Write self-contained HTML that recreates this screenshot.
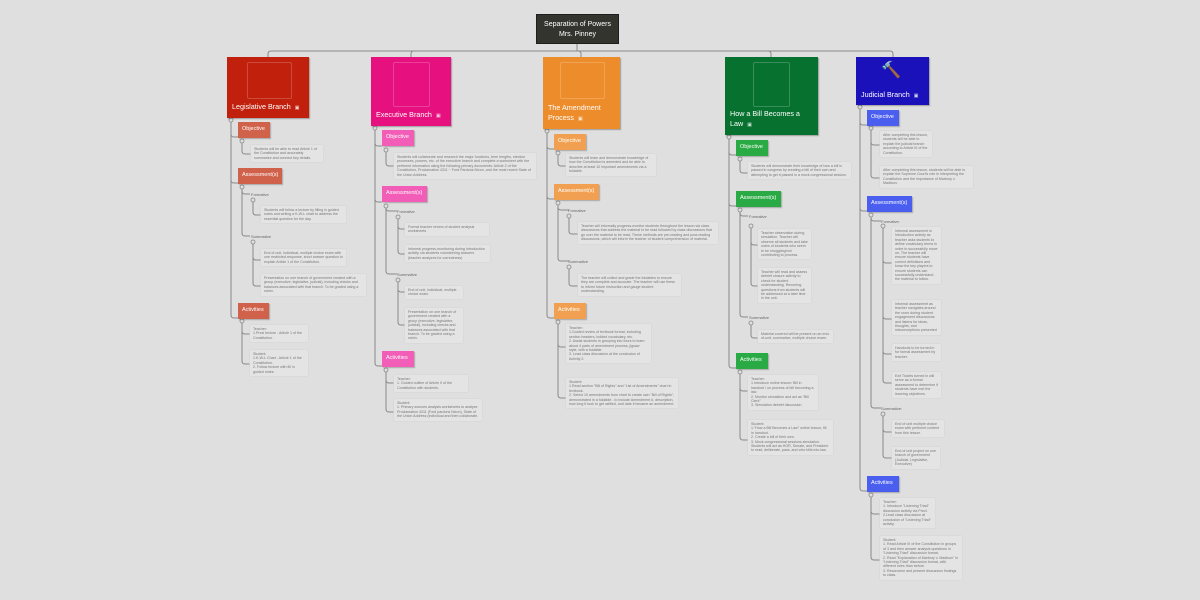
<!DOCTYPE html>
<html><head><meta charset="utf-8"><style>
body{margin:0;width:1200px;height:600px;background:#dfdfdf;position:relative;overflow:hidden;font-family:"Liberation Sans",sans-serif}
.a{position:absolute;box-sizing:border-box}
.root{left:536px;top:14px;width:83px;height:30px;background:#34342f;border:1px solid #1e1e1e;color:#fff;font-size:7px;text-align:center;line-height:9.5px;padding-top:5px}
.br{color:#fff;font-size:7.2px;line-height:9.5px;box-shadow:1px 1px 1px rgba(0,0,0,.3);padding-left:5px}
.img{position:absolute;border:1px solid rgba(255,255,255,.2);border-radius:2px}
.tag{color:#fff;font-size:5.5px;line-height:15px;padding-left:4px;box-shadow:1px 1px 1px rgba(0,0,0,.25)}
.lab{font-size:4px;color:#666}
.n{font-size:3.6px;line-height:4.4px;color:#777;background:#e4e4e4;border-radius:1px;padding:2px 3px;box-shadow:0 0 0 .5px #d6d6d6}
svg{position:absolute;left:0;top:0}
.ic{font-size:5px;margin-left:4px;opacity:.8}
</style></head><body>
<svg width="1200" height="600" fill="none" stroke="#8a8a8a" stroke-width="1">
<path d="M577 44V51M268 57V54q0-3 3-3H890q3 0 3 3V57M411 57V54q0-3 3-3M581 57V54q0-3-3-3M771 57V54q0-3-3-3"/>
<path d="M231 118V315q0 3 3 3h4M231 134q0 3 3 3h4M231 180q0 3 3 3h4"/>
<path d="M242 141V151q0 3 3 3h6M242 187V233q0 3 3 3h5M242 191q0 3 3 3h5M253 200V212q0 3 3 3h5M253 242V283q0 3 3 3h5M253 257q0 3 3 3h5M242 322V361q0 3 3 3h5M242 331q0 3 3 3h5"/>
<path d="M375 126V363q0 3 3 3h4M375 143q0 3 3 3h4M375 199q0 3 3 3h4"/>
<path d="M386 150V163q0 3 3 3h5M386 206V271q0 3 3 3h8M386 208q0 3 3 3h8M398 217V251q0 3 3 3h4M398 226q0 3 3 3h4M398 280V322q0 3 3 3h4M398 289q0 3 3 3h4M386 370V409q0 3 3 3h5M386 380q0 3 3 3h5"/>
<path d="M547 129V315q0 3 3 3h4M547 146q0 3 3 3h4M547 196q0 3 3 3h4"/>
<path d="M558 153V163q0 3 3 3h5M558 203V258q0 3 3 3h8M558 207q0 3 3 3h8M569 216V231q0 3 3 3h6M569 267V283q0 3 3 3h6M558 322V395q0 3 3 3h5M558 344q0 3 3 3h5"/>
<path d="M729 135V365q0 3 3 3h4M729 152q0 3 3 3h4M729 203q0 3 3 3h4"/>
<path d="M740 159V170q0 3 3 3h5M740 210V314q0 3 3 3h5M740 213q0 3 3 3h5M751 226V283q0 3 3 3h4M751 242q0 3 3 3h4M751 323V335q0 3 3 3h4M740 372V437q0 3 3 3h5M740 388q0 3 3 3h5"/>
<path d="M860 105V488q0 3 3 3h4M860 122q0 3 3 3h4M860 208q0 3 3 3h4"/>
<path d="M871 128V175q0 3 3 3h6M871 142q0 3 3 3h6M871 215V405q0 3 3 3h7M871 218q0 3 3 3h7M883 226V380q0 3 3 3h6M883 260q0 3 3 3h6M883 316q0 3 3 3h6M883 351q0 3 3 3h6M883 414V455q0 3 3 3h6M883 429q0 3 3 3h6M871 495V557q0 3 3 3h6M871 511q0 3 3 3h6"/>
<g fill="#dfdfdf" stroke="#888" stroke-width=".8">
<circle cx="231" cy="120" r="2"/><circle cx="242" cy="141" r="2"/><circle cx="242" cy="187" r="2"/><circle cx="253" cy="200" r="2"/><circle cx="253" cy="242" r="2"/><circle cx="242" cy="321" r="2"/>
<circle cx="375" cy="128" r="2"/><circle cx="386" cy="150" r="2"/><circle cx="386" cy="206" r="2"/><circle cx="398" cy="217" r="2"/><circle cx="398" cy="280" r="2"/><circle cx="386" cy="370" r="2"/>
<circle cx="547" cy="131" r="2"/><circle cx="558" cy="153" r="2"/><circle cx="558" cy="203" r="2"/><circle cx="569" cy="216" r="2"/><circle cx="569" cy="267" r="2"/><circle cx="558" cy="322" r="2"/>
<circle cx="729" cy="137" r="2"/><circle cx="740" cy="159" r="2"/><circle cx="740" cy="210" r="2"/><circle cx="751" cy="226" r="2"/><circle cx="751" cy="323" r="2"/><circle cx="740" cy="372" r="2"/>
<circle cx="860" cy="107" r="2"/><circle cx="871" cy="128" r="2"/><circle cx="871" cy="215" r="2"/><circle cx="883" cy="226" r="2"/><circle cx="883" cy="414" r="2"/><circle cx="871" cy="495" r="2"/>
</g>
</svg>

<div class="a root">Separation of Powers<br>Mrs. Pinney</div>

<div class="a br" style="left:227px;top:57px;width:82px;height:61px;background:#c0200c;padding-top:45px">Legislative Branch<span class="ic">▣</span><div class="img" style="left:20px;top:5px;width:43px;height:35px"></div></div>
<div class="a br" style="left:371px;top:57px;width:80px;height:69px;background:#e6117e;padding-top:53px">Executive Branch<span class="ic">▣</span><div class="img" style="left:22px;top:5px;width:35px;height:43px"></div></div>
<div class="a br" style="left:543px;top:57px;width:77px;height:72px;background:#ed8c2b;padding-top:46px">The Amendment<br>Process<span class="ic">▣</span><div class="img" style="left:17px;top:5px;width:43px;height:35px"></div></div>
<div class="a br" style="left:725px;top:57px;width:93px;height:78px;background:#077230;padding-top:52px">How a Bill Becomes a<br>Law<span class="ic">▣</span><div class="img" style="left:28px;top:5px;width:35px;height:43px"></div></div>
<div class="a br" style="left:856px;top:57px;width:73px;height:48px;background:#1b11bb;padding-top:33px">Judicial Branch<span class="ic">▣</span><div style="position:absolute;left:25px;top:6px;font-size:16px;line-height:16px">🔨</div></div>

<div class="a tag" style="left:238px;top:122px;width:32px;height:16px;background:#d0614a">Objective</div>
<div class="a n" style="left:251px;top:145px;width:72px">Students will be able to read Article 1 of the Constitution and accurately summarize and connect key details.</div>
<div class="a tag" style="left:238px;top:168px;width:44px;height:16px;background:#d0614a">Assessment(s)</div>
<div class="a lab" style="left:251px;top:192px">Formative</div>
<div class="a n" style="left:261px;top:206px;width:85px">Students will follow a lecture by filling in guided notes and writing a K-W-L chart to address the essential question for the day.</div>
<div class="a lab" style="left:251px;top:234px">Summative</div>
<div class="a n" style="left:261px;top:249px;width:85px">End of unit, individual, multiple choice exam with one restricted-response, short answer question to explain Article 1 of the Constitution.</div>
<div class="a n" style="left:261px;top:274px;width:105px">Presentation on one branch of government created with a group (executive, legislative, judicial), including checks and balances associated with that branch. To be graded using a rubric.</div>
<div class="a tag" style="left:238px;top:303px;width:31px;height:16px;background:#d0614a">Activities</div>
<div class="a n" style="left:250px;top:325px;width:58px">Teacher:<br>1.Prezi lecture - Article 1 of the Constitution.</div>
<div class="a n" style="left:250px;top:350px;width:58px">Student:<br>1.K-W-L Chart - Article 1 of the Constitution.<br>2. Follow lecture with fill in guided notes.</div>

<div class="a tag" style="left:382px;top:130px;width:32px;height:16px;background:#f25db8">Objective</div>
<div class="a n" style="left:394px;top:153px;width:142px">Students will collaborate and research the major functions, term lengths, election processes, powers, etc. of the executive branch and complete a worksheet with the pertinent information using the following primary documents: Article 2 of the Constitution, Proclamation 4311 ~ Ford Pardons Nixon, and the most recent State of the Union Address.</div>
<div class="a tag" style="left:382px;top:186px;width:45px;height:16px;background:#f25db8">Assessment(s)</div>
<div class="a lab" style="left:397px;top:209px">Formative</div>
<div class="a n" style="left:405px;top:223px;width:84px">Formal teacher review of student analysis worksheets</div>
<div class="a n" style="left:405px;top:245px;width:85px">Informal progress-monitoring during Introduction activity via students volunteering answers (teacher analyzes for correctness)</div>
<div class="a lab" style="left:397px;top:272px">Summative</div>
<div class="a n" style="left:405px;top:286px;width:58px">End of unit, individual, multiple choice exam.</div>
<div class="a n" style="left:405px;top:308px;width:58px">Presentation on one branch of government created with a group (executive, legislative, judicial), including checks and balances associated with that branch. To be graded using a rubric.</div>
<div class="a tag" style="left:382px;top:351px;width:32px;height:16px;background:#f25db8">Activities</div>
<div class="a n" style="left:394px;top:375px;width:74px">Teacher:<br>1. Guided outline of Article II of the Constitution with students.</div>
<div class="a n" style="left:394px;top:399px;width:88px">Student:<br>1. Primary sources analysis worksheets to analyze Proclamation 4311 (Ford pardons Nixon), State of the Union Address (individual and then collaborate.</div>

<div class="a tag" style="left:554px;top:134px;width:32px;height:16px;background:#f0a050">Objective</div>
<div class="a n" style="left:566px;top:154px;width:90px">Students will learn and demonstrate knowledge of how the Constitution is amended and be able to describe at least 10 important amendments via a foldable.</div>
<div class="a tag" style="left:554px;top:184px;width:45px;height:16px;background:#f0a050">Assessment(s)</div>
<div class="a lab" style="left:568px;top:208px">Formative</div>
<div class="a n" style="left:578px;top:222px;width:140px">Teacher will informally progress-monitor students throughout the lesson via class discussions that address the material to be read followed by class discussions that go over the material to be read. These methods are pre-reading and post-reading discussions, which will inform the teacher of student comprehension of material.</div>
<div class="a lab" style="left:568px;top:259px">Summative</div>
<div class="a n" style="left:578px;top:274px;width:103px">The teacher will collect and grade the foldables to ensure they are complete and accurate. The teacher will use these to inform future instruction and gauge student understanding.</div>
<div class="a tag" style="left:554px;top:303px;width:32px;height:16px;background:#f0a050">Activities</div>
<div class="a n" style="left:566px;top:324px;width:85px">Teacher:<br>1.Guided review of textbook format, including section headers, bolded vocabulary, etc.<br>2. Assist students in grouping into fours to learn about 4 parts of amendment process, jigsaw style, with a foldable.<br>3. Lead class discussion at the conclusion of Activity 2.</div>
<div class="a n" style="left:566px;top:378px;width:112px">Student:<br>1.Read section "Bill of Rights" and "List of Amendments" chart in textbook.<br>2. Select 10 amendments from chart to create own "Bill of Rights", demonstrated in a foldable - to include Amendment #, description, how long it took to get ratified, and date it became an amendment.</div>

<div class="a tag" style="left:736px;top:140px;width:32px;height:16px;background:#2aaa44">Objective</div>
<div class="a n" style="left:748px;top:162px;width:103px">Students will demonstrate their knowledge of how a bill is passed in congress by creating a bill of their own and attempting to get it passed in a mock congressional session.</div>
<div class="a tag" style="left:736px;top:191px;width:45px;height:16px;background:#2aaa44">Assessment(s)</div>
<div class="a lab" style="left:749px;top:214px">Formative</div>
<div class="a n" style="left:758px;top:229px;width:53px">Teacher observation during simulation. Teacher will observe all students and take notes of students who seem to be struggling/not contributing to process.</div>
<div class="a n" style="left:758px;top:268px;width:53px">Teacher will read and assess debrief closure activity to check for student understanding. Recurring questions from students will be addressed at a later time in the unit.</div>
<div class="a lab" style="left:749px;top:315px">Summative</div>
<div class="a n" style="left:758px;top:330px;width:75px">Material covered will be present on an end-of-unit, summative, multiple choice exam.</div>
<div class="a tag" style="left:736px;top:353px;width:32px;height:16px;background:#2aaa44">Activities</div>
<div class="a n" style="left:748px;top:375px;width:70px">Teacher:<br>1.Introduce online lesson: Bill in handout / on process of bill becoming a law.<br>2. Monitor simulation and act as "Bill Clerk"<br>3. Simulation debrief discussion</div>
<div class="a n" style="left:748px;top:420px;width:85px">Student:<br>1."How a Bill Becomes a Law" online lesson, fill in handout.<br>2. Create a bill of their own.<br>3. Mock congressional sessions simulation. Students will act as HOR, Senate, and President to read, deliberate, pass, and veto bills into law.</div>

<div class="a tag" style="left:867px;top:110px;width:32px;height:16px;background:#4a5ef0">Objective</div>
<div class="a n" style="left:880px;top:131px;width:52px">After completing this lesson, students will be able to explain the judicial branch according to Article III of the Constitution.</div>
<div class="a n" style="left:880px;top:166px;width:93px">After completing this lesson, students will be able to explain the Supreme Court's role in interpreting the Constitution and the importance of Marbury v. Madison.</div>
<div class="a tag" style="left:867px;top:196px;width:45px;height:16px;background:#4a5ef0">Assessment(s)</div>
<div class="a lab" style="left:881px;top:219px">Formative:</div>
<div class="a n" style="left:892px;top:227px;width:49px">Informal assessment in Introduction activity as teacher asks students to define vocabulary terms in order to successfully move on. The teacher will ensure students have correct definitions and know the key players to ensure students can successfully understand the material to follow.</div>
<div class="a n" style="left:892px;top:300px;width:49px">Informal assessment as teacher navigates around the room during student engagement discussions and listens for ideas, thoughts, and misconceptions presented</div>
<div class="a n" style="left:892px;top:344px;width:49px">Handouts to be turned in for formal assessment by teacher.</div>
<div class="a n" style="left:892px;top:372px;width:49px">Exit Tickets turned in will serve as a formal assessment to determine if students have met the learning objectives.</div>
<div class="a lab" style="left:881px;top:406px">Summative:</div>
<div class="a n" style="left:892px;top:420px;width:52px">End of unit multiple choice exam with pertinent content from this lesson.</div>
<div class="a n" style="left:892px;top:447px;width:48px">End of unit project on one branch of government (Judicial, Legislative, Executive)</div>
<div class="a tag" style="left:867px;top:476px;width:32px;height:16px;background:#4a5ef0">Activities</div>
<div class="a n" style="left:880px;top:498px;width:55px">Teacher:<br>1. Introduce "Listening Triad" discussion activity via Prezi.<br>2.Lead class discussion at conclusion of "Listening Triad" activity.</div>
<div class="a n" style="left:880px;top:536px;width:82px">Student:<br>1. Read Article III of the Constitution in groups of 3 and then answer analysis questions in "Listening Triad" discussion format.<br>2. Read "Explanation of Marbury v. Madison" in "Listening Triad" discussion format, with different roles than before.<br>3. Reconvene and present discussion findings to class.</div>
</body></html>
